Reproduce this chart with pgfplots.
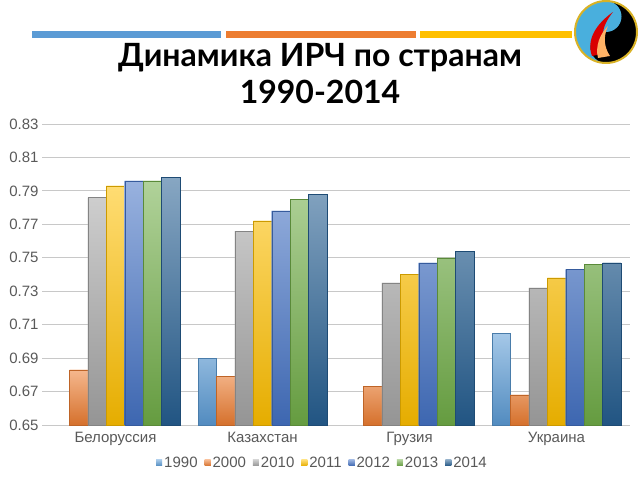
\documentclass[border=0pt]{standalone}
\usepackage{pgfplots}
\pgfplotsset{compat=1.18}
\usepackage{fontspec}
\setmainfont{Liberation Sans}
\newfontfamily\titlefont{Lato}
\definecolor{c1990}{HTML}{5B9BD5}
\definecolor{c2000}{HTML}{ED7D31}
\definecolor{c2010}{HTML}{A5A5A5}
\definecolor{c2011}{HTML}{FFC000}
\definecolor{c2012}{HTML}{4472C4}
\definecolor{c2013}{HTML}{70AD47}
\definecolor{c2014}{HTML}{255E91}
\definecolor{gridc}{HTML}{C8C8C8}
\definecolor{tickc}{HTML}{595959}
\pgfplotsset{
  barsty/.style={fill=#1, top color=#1!55!white, bottom color=#1!90!black, draw=#1!80!black, line width=0.3pt},
}
\begin{document}
\begin{tikzpicture}[x=1pt,y=1pt]
\useasboundingbox (0,0) rectangle (640,480);
% decorative lines
\draw[line width=6.5pt, c1990] (32,445.5) -- (221,445.5);
\draw[line width=6.5pt, c2000] (226,445.5) -- (416,445.5);
\draw[line width=6.5pt, c2011] (420,445.5) -- (572,445.5);
% logo
\fill[black] (606,448) circle (31);
\fill[c1990!80!cyan] (606,479) arc (90:270:31) arc (270:90:15.5) arc (-90:90:15.5) -- cycle;
\fill[red!85!black] (592,424) .. controls (586,440) and (596,456) .. (613,468) .. controls (600,452) and (601,440) .. (607,427) -- cycle;
\fill[orange!60!white] (598,422) .. controls (595,434) and (600,446) .. (608,454) .. controls (603,443) and (604,433) .. (610,424) -- cycle;
\draw[line width=2pt, brown!60!yellow] (606,448) circle (31);
% title
\node[font=\titlefont\bfseries\fontsize{32}{37}\selectfont, align=center] at (320,406) {Динамика ИРЧ по странам\\1990-2014};
\begin{axis}[
  at={(42pt,55pt)}, anchor=south west,
  scale only axis, width=588pt, height=301pt,
  ymin=0.65, ymax=0.83,
  ytick={0.65,0.67,0.69,0.71,0.73,0.75,0.77,0.79,0.81,0.83},
  xmin=-0.5, xmax=3.5,
  xtick={0,1,2,3},
  xticklabels={Белоруссия,Казахстан,Грузия,Украина},
  ybar=0pt, bar width=18.4pt,
  axis line style={draw=none},
  major tick length=0pt,
  ymajorgrids, grid style={gridc, line width=0.9pt},
  /pgf/number format/assume math mode=true,
  yticklabel style={/pgf/number format/.cd, fixed, fixed zerofill, precision=2},
  xticklabel style={yshift=-4pt},
  tick label style={font=\fontsize{15}{17}\selectfont, text=tickc},
  legend columns=7,
  legend style={draw=none, at={(0.477,-0.126)}, anchor=center,
    font=\fontsize{15}{17}\selectfont, text=tickc,
    /tikz/every even column/.append style={column sep=5pt}},
  legend image code/.code={\fill[#1, draw=none] (0pt,-3pt) rectangle (6pt,3pt);},
]
\addplot[barsty=c1990] coordinates {(1,0.690) (3,0.705)};
\addplot[barsty=c2000] coordinates {(0,0.683) (1,0.679) (2,0.673) (3,0.668)};
\addplot[barsty=c2010] coordinates {(0,0.786) (1,0.766) (2,0.735) (3,0.732)};
\addplot[barsty=c2011] coordinates {(0,0.793) (1,0.772) (2,0.740) (3,0.738)};
\addplot[barsty=c2012] coordinates {(0,0.796) (1,0.778) (2,0.747) (3,0.743)};
\addplot[barsty=c2013] coordinates {(0,0.796) (1,0.785) (2,0.750) (3,0.746)};
\addplot[barsty=c2014] coordinates {(0,0.798) (1,0.788) (2,0.754) (3,0.747)};
\legend{1990,2000,2010,2011,2012,2013,2014}
\end{axis}
\end{tikzpicture}
\end{document}
